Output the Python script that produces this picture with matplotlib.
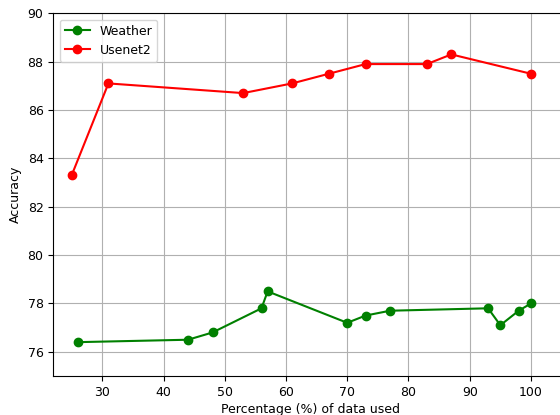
import matplotlib
matplotlib.use("Agg")
import matplotlib.pyplot as plt

weather_x = [26, 44, 48, 56, 57, 70, 73, 77, 93, 95, 98, 100]
weather_y = [76.4, 76.5, 76.8, 77.8, 78.5, 77.2, 77.5, 77.7, 77.8, 77.1, 77.7, 78.0]
usenet_x = [25, 31, 53, 61, 67, 73, 83, 87, 100]
usenet_y = [83.3, 87.1, 86.7, 87.1, 87.5, 87.9, 87.9, 88.3, 87.5]

plt.rcParams['font.size'] = 9

fig = plt.figure(figsize=(5.6, 4.15), dpi=100)
ax = fig.add_axes([53.3 / 560, 39 / 415, 514.4 / 560, 362.7 / 415])
ax.plot(weather_x, weather_y, 'o-', color='green', label='Weather')
ax.plot(usenet_x, usenet_y, 'o-', color='red', label='Usenet2')
ax.set_xlim(22, 106)
ax.set_ylim(75, 90)
ax.set_xticks([30, 40, 50, 60, 70, 80, 90, 100])
ax.set_yticks([76, 78, 80, 82, 84, 86, 88, 90])
ax.set_xlabel('Percentage (%) of data used', labelpad=3)
ax.set_ylabel('Accuracy')
ax.grid(True)
ax.legend(loc='upper left')
fig.savefig('out.png', dpi=100)
